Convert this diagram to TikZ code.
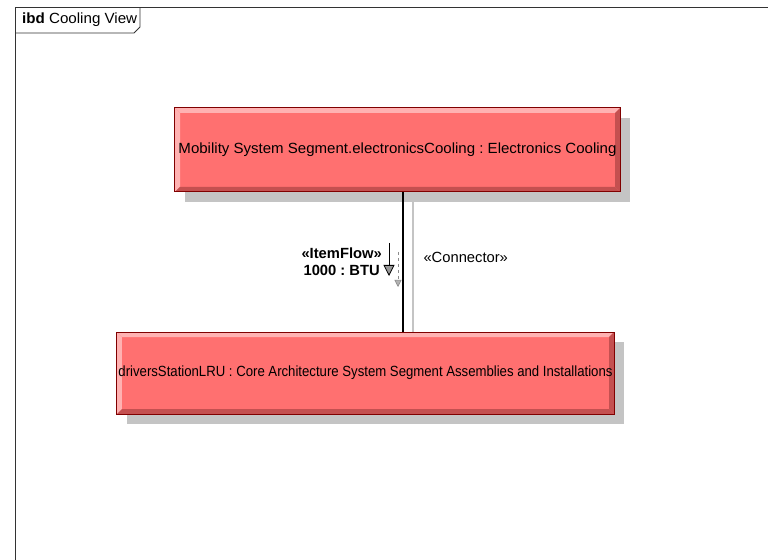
\documentclass[tikz,border=0pt]{standalone}
\usepackage{fontspec}
\setmainfont{Liberation Sans}
\usetikzlibrary{arrows.meta,shadows,positioning}
\definecolor{partfill}{RGB}{255,112,112}
\definecolor{partedge}{RGB}{128,0,0}
\definecolor{partlight}{RGB}{255,178,178}
\definecolor{partdark}{RGB}{196,80,80}
\definecolor{shadowgray}{RGB}{196,196,196}
\newcommand{\ibdsize}{\fontsize{14.8}{17}\selectfont\frenchspacing}
\newcommand{\fitlabel}[2]{\resizebox{#1}{\height}{#2}}

\begin{document}
\begin{tikzpicture}[x=1bp,y=-1bp,font=\ibdsize,
	part/.style={draw=partedge,line width=1bp,fill=partfill,inner sep=0pt,
		drop shadow={shadow xshift=10bp,shadow yshift=-10bp,fill=shadowgray,opacity=1},
		path picture={
			\fill[partlight] (path picture bounding box.north west) -- (path picture bounding box.north east)
				-- ([xshift=-5bp,yshift=-5bp]path picture bounding box.north east) -- ([xshift=5bp,yshift=-5bp]path picture bounding box.north west) -- cycle;
			\fill[partlight] (path picture bounding box.north west) -- (path picture bounding box.south west)
				-- ([xshift=5bp,yshift=5bp]path picture bounding box.south west) -- ([xshift=5bp,yshift=-5bp]path picture bounding box.north west) -- cycle;
			\fill[partdark] (path picture bounding box.south west) -- (path picture bounding box.south east)
				-- ([xshift=-5bp,yshift=5bp]path picture bounding box.south east) -- ([xshift=5bp,yshift=5bp]path picture bounding box.south west) -- cycle;
			\fill[partdark] (path picture bounding box.north east) -- (path picture bounding box.south east)
				-- ([xshift=-5bp,yshift=5bp]path picture bounding box.south east) -- ([xshift=-5bp,yshift=-5bp]path picture bounding box.north east) -- cycle;
		}},
	flowlabel/.style={font=\ibdsize\bfseries,align=center,inner sep=1bp}]

	\useasboundingbox[fill=white] (0,0) rectangle (768,560);
	\clip (0,0) rectangle (768,560);

	% diagram frame and its tab
	\draw[line width=1bp,black!80] (15,580) -- (15,8) -- (790,8);
	\draw[line width=0.8bp,black!80] (15,33) -- (134,33) -- (140,27) -- (140,8);
	\node[anchor=west,inner sep=0pt] (tab) at (22,20) {\fitlabel{115bp}{\textbf{ibd} Cooling View}};

	% parts
	\node[part,minimum width=445bp,minimum height=84bp] (cooling) at (397.5,150)
		{\fitlabel{438bp}{Mobility System Segment.electronicsCooling : Electronics Cooling}};
	\node[part,minimum width=497bp,minimum height=82bp] (drivers) at (365.5,373)
		{\fitlabel{494bp}{driversStationLRU : Core Architecture System Segment Assemblies and Installations}};

	% connector
	\coordinate (cx) at (403,0);
	\coordinate (cs) at (413,0);
	\draw[shadowgray,line width=2bp] ([yshift=-10bp]cooling.south -| cs) -- (drivers.north -| cs);
	\draw[line width=2bp] (cooling.south -| cx) -- (drivers.north -| cx);
	\node[anchor=west] (conn) at (420,257) {«Connector»};

	% item flow
	\coordinate (fs) at (389,243);
	\coordinate (fe) at (389,276);
	\coordinate (gs) at (398,252);
	\coordinate (ge) at (398,287);
	\draw[black!45,dashed,line width=0.6bp,-{Triangle[open,width=7bp,length=7bp,fill=black!30]}] (gs) -- (ge);
	\draw[line width=0.8bp,-{Triangle[open,width=11bp,length=11bp,fill=black!40]}] (fs) -- (fe);
	\node[flowlabel,anchor=east] (flow) at (383,262) {«ItemFlow»\\1000 : BTU};
\end{tikzpicture}
\end{document}
